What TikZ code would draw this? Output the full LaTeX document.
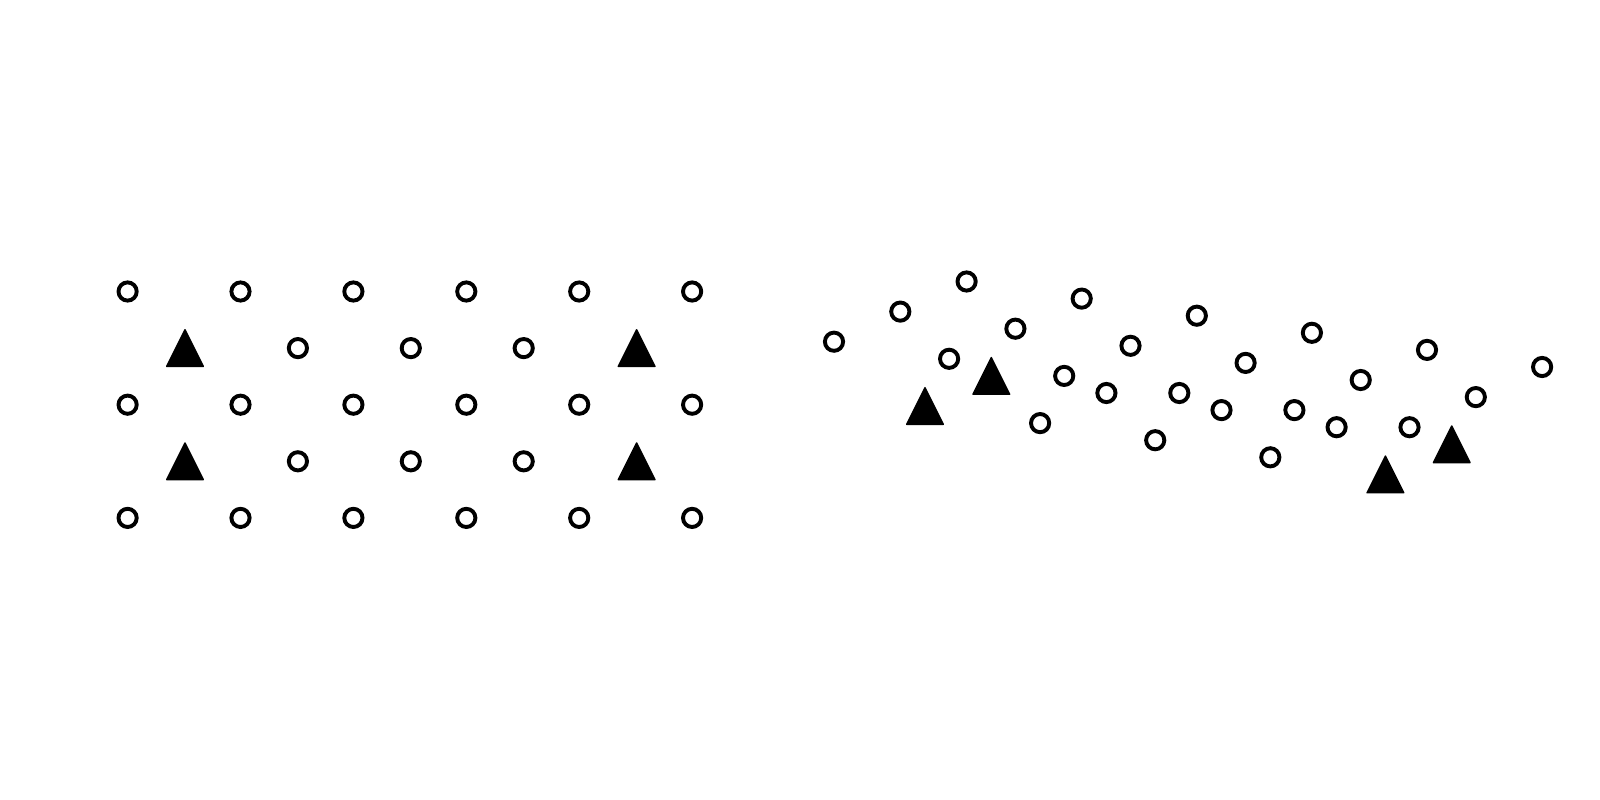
\documentclass[tikz,border=0pt]{standalone}
\usepackage{tikz}

\begin{document}
\begin{tikzpicture}[
    x=0.01cm, y=-0.01cm,
    site/.style={circle, draw, fill=white, line width=0.039cm, minimum size=0.182cm, inner sep=0pt},
    dopant/.pic={\filldraw[line width=0.015cm, line join=round] (-18.3,18.3) -- (18.3,18.3) -- (0,-18.3) -- cycle;}
  ]
    \useasboundingbox (0,0) rectangle (1600,800);

    % regular lattice
    \foreach \i in {0,...,5}
      \foreach \r in {0,2,4}
        \node[site] (a-\i-\r) at ({127.6+112.9*\i},{291.5+56.6*\r}) {};
    \foreach \i in {1,2,3}
      \foreach \r in {1,3}
        \node[site] (b-\i-\r) at ({185+112.9*\i},{291.5+56.6*\r}) {};
    \foreach \i in {0,4}
      \foreach \r in {1,3}
        \pic (t-\i-\r) at ({185+112.9*\i},{291.5+56.6*\r}) {dopant};

    % distorted lattice
    \foreach \i in {0,...,5}
      \foreach \k in {0,1,2}
        \node[site] (c-\i-\k) at ({834+115.1*\i+66.3*\k},{341.7+17.1*\i-30.1*\k}) {};
    \foreach \i in {1,2,3}
      \foreach \k in {0,1}
        \node[site] (d-\i-\k) at ({925+115.1*\i+66.3*\k},{406+17.1*\i-30.1*\k}) {};
    \foreach \i in {0,4}
      \foreach \k in {0,1}
        \pic (s-\i-\k) at ({925+115.1*\i+66.3*\k},{406+17.1*\i-30.1*\k}) {dopant};
\end{tikzpicture}
\end{document}
